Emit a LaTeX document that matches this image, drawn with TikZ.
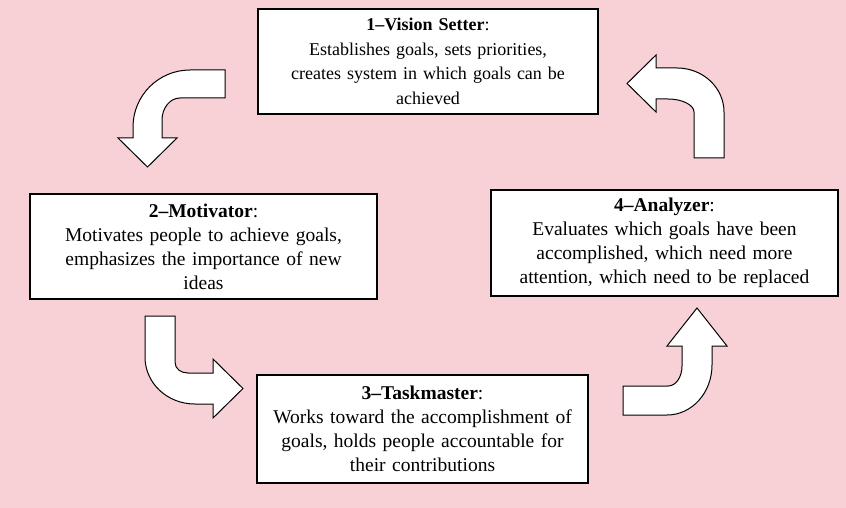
\documentclass[tikz,border=0pt]{standalone}
\usepackage{fontspec}
\setmainfont{Liberation Serif}
\definecolor{bgpink}{RGB}{247,209,214}
\begin{document}
\begin{tikzpicture}[x=1pt,y=-1pt,
  box/.style={draw=black, line width=1.2pt, fill=white, align=center, inner sep=0pt,
    font=\fontsize{19.5}{24}\selectfont},
  blockarrow/.style={draw=black, line width=1pt, fill=white, line join=miter}]
\fill[bgpink] (0,0) rectangle (846,508);
\useasboundingbox (0,0) rectangle (846,508);

\node[box, font=\fontsize{18}{24.5}\selectfont, minimum width=340pt, minimum height=105pt, text width=334pt] (b1) at (428,61.5)
  {\textbf{1--Vision Setter}:\\Establishes goals, sets priorities,\\creates system in which goals can be\\achieved};
\node[box, minimum width=347pt, minimum height=105pt, text width=341pt] (b2) at (203.5,246.5)
  {\textbf{2--Motivator}:\\Motivates people to achieve goals,\\emphasizes the importance of new\\ideas};
\node[box, minimum width=331pt, minimum height=108pt, text width=325pt] (b3) at (422.5,429)
  {\textbf{3--Taskmaster}:\\Works toward the accomplishment of\\goals, holds people accountable for\\their contributions};
\node[box, minimum width=347pt, minimum height=106pt, text width=341pt] (b4) at (664.5,243)
  {\textbf{4--Analyzer}:\\Evaluates which goals have been\\accomplished, which need more\\attention, which need to be replaced};

% arrow from b1 to b2
\draw[blockarrow] (225,70) -- (190,70) .. controls (158.5,70) and (133,95.5) .. (133,127)
  -- (133,138) -- (118,138) -- (147.5,167) -- (177,138) -- (162,138) -- (162,120)
  .. controls (162,108) and (170,98) .. (180,98) -- (225,98) -- cycle;
% arrow from b2 to b3
\draw[blockarrow] (145,316) -- (145,357) .. controls (145,383) and (167,404) .. (195,404)
  -- (213,404) -- (213,418) -- (243,388.5) -- (213,359) -- (213,373) -- (188,373)
  .. controls (181,373) and (175,369) .. (175,362) -- (175,316) -- cycle;
% arrow from b3 to b4
\draw[blockarrow] (623,415) -- (667,415) .. controls (692,415) and (712,392.6) .. (712,365)
  -- (712,346) -- (727,346) -- (697,308) -- (667,346) -- (682,346) -- (682,366)
  .. controls (682,377) and (676,386) .. (668,386) -- (623,386) -- cycle;
% arrow from b4 to b1
\draw[blockarrow] (724,158) -- (724,112) .. controls (724,87.7) and (703,68) .. (677,68)
  -- (656,68) -- (656,55) -- (627,83.5) -- (656,112) -- (656,99) -- (668,99)
  .. controls (682,99) and (694,104.8) .. (694,112) -- (694,158) -- cycle;
\end{tikzpicture}
\end{document}
